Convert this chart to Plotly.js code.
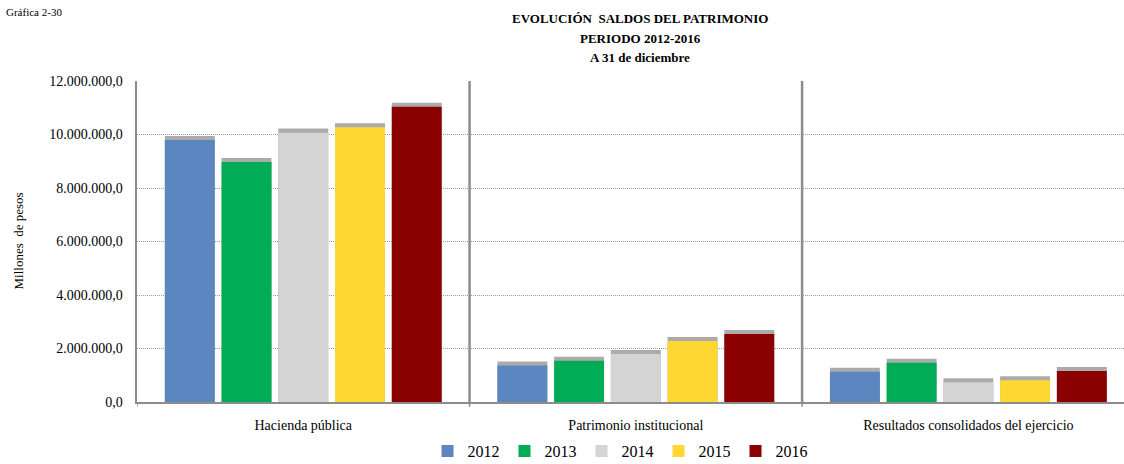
<!DOCTYPE html>
<html>
<head>
<meta charset="utf-8">
<script src="https://cdn.plot.ly/plotly-3.0.1.min.js"></script>
<style>html,body{margin:0;padding:0;background:#fff;}#chart{width:1124px;height:464px;}</style>
</head>
<body>
<div id="chart"></div>
<script>
const categories = ["Hacienda pública", "Patrimonio institucional", "Resultados consolidados del ejercicio"];
const years = ["2012", "2013", "2014", "2015", "2016"];
const colors = ["#5b86bf", "#00ad56", "#d4d4d4", "#ffd733", "#8b0000"];
const v2012 = [9790000, 1360000, 1130000];
const v2013 = [8970000, 1540000, 1470000];
const v2014 = [10070000, 1790000, 740000];
const v2015 = [10270000, 2280000, 810000];
const v2016 = [11040000, 2540000, 1160000];
const series = [v2012, v2013, v2014, v2015, v2016];
const titleLines = ["EVOLUCIÓN  SALDOS DEL PATRIMONIO", "PERIODO 2012-2016", "A 31 de diciembre"];

const FONT = "Liberation Serif, Times New Roman, serif";
const shadowOffset = 150000;
const traces = [];
series.forEach((s, i) => {
  traces.push({
    type: "bar", x: categories, y: s.map(v => v + shadowOffset),
    marker: {color: "#ababab"}, showlegend: false, hoverinfo: "skip",
    xaxis: "x", yaxis: "y"
  });
});
series.forEach((s, i) => {
  traces.push({
    type: "bar", x: categories, y: s, name: years[i],
    marker: {color: colors[i]}, xaxis: "x2", yaxis: "y2"
  });
});

const xr = [-0.5, 2.468];
const yr = [0, 12000000];
const annotations = [
  {text: "Gráfica 2-30", xref: "paper", yref: "paper", x: -133/987, y: 1 + 69/321, xanchor: "left", yanchor: "middle",
   showarrow: false, font: {family: FONT, size: 11, color: "#000"}},
  {text: "Millones  de pesos", xref: "paper", yref: "paper", x: -119/987, y: 0.5, xanchor: "center", yanchor: "middle",
   textangle: -90, showarrow: false, font: {family: FONT, size: 13, color: "#000"}}
];
const titleY = [18, 38, 57];
titleLines.forEach((t, i) => {
  annotations.push({text: "<b>" + t + "</b>", xref: "paper", yref: "paper",
    x: (640 - 137) / 987, y: (402 - titleY[i]) / 321, xanchor: "center", yanchor: "middle",
    showarrow: false, font: {family: FONT, size: 13, color: "#000"}});
});

const layout = {
  width: 1124, height: 464,
  margin: {l: 137, r: 0, t: 81, b: 62, pad: 0, autoexpand: false},
  paper_bgcolor: "#fff", plot_bgcolor: "#fff",
  separators: ",.",
  barmode: "group", bargap: 0.147, bargroupgap: 0.12,
  font: {family: FONT, size: 13, color: "#000"},
  xaxis: {range: xr, showgrid: false, showline: true, linecolor: "#8c8c8c", linewidth: 1.5, automargin: false,
    ticks: "", ticklabelstandoff: 10, tickfont: {family: FONT, size: 14}, zeroline: false, fixedrange: true},
  yaxis: {range: yr, tickformat: ",.1f", dtick: 2000000, showgrid: true, gridcolor: "#9a9a9a", griddash: "1px,1px",
    gridwidth: 1, showline: true, linecolor: "#8c8c8c", linewidth: 2.5, zeroline: false, automargin: false,
    ticks: "", ticklabelstandoff: 9, tickfont: {family: FONT, size: 14}},
  xaxis2: {range: xr, overlaying: "x", visible: false, fixedrange: true},
  yaxis2: {range: yr, overlaying: "y", visible: false, fixedrange: true},
  showlegend: true,
  legend: {orientation: "h", x: (620 - 137) / 987, xanchor: "center", y: -49 / 321, yanchor: "middle",
    font: {family: FONT, size: 16}, itemwidth: 30, traceorder: "normal", borderwidth: 0, tracegroupgap: 0},
  shapes: [
    {type: "line", xref: "x", yref: "paper", x0: 0.5, x1: 0.5, y0: 0, y1: 1, line: {color: "#8c8c8c", width: 2.5}},
    {type: "line", xref: "x", yref: "paper", x0: 1.5, x1: 1.5, y0: 0, y1: 1, line: {color: "#8c8c8c", width: 2.5}},
    {type: "line", xref: "x", yref: "paper", x0: 0.5, x1: 0.5, y0: 0, y1: -0.015, line: {color: "#8c8c8c", width: 1.5}},
    {type: "line", xref: "x", yref: "paper", x0: 1.5, x1: 1.5, y0: 0, y1: -0.015, line: {color: "#8c8c8c", width: 1.5}},
    {type: "line", xref: "x", yref: "paper", x0: -0.5, x1: -0.5, y0: 0, y1: -0.015, line: {color: "#8c8c8c", width: 1.5}}
  ],
  annotations: annotations
};

Plotly.newPlot("chart", traces, layout, {displayModeBar: false, staticPlot: true});
</script>
</body>
</html>
